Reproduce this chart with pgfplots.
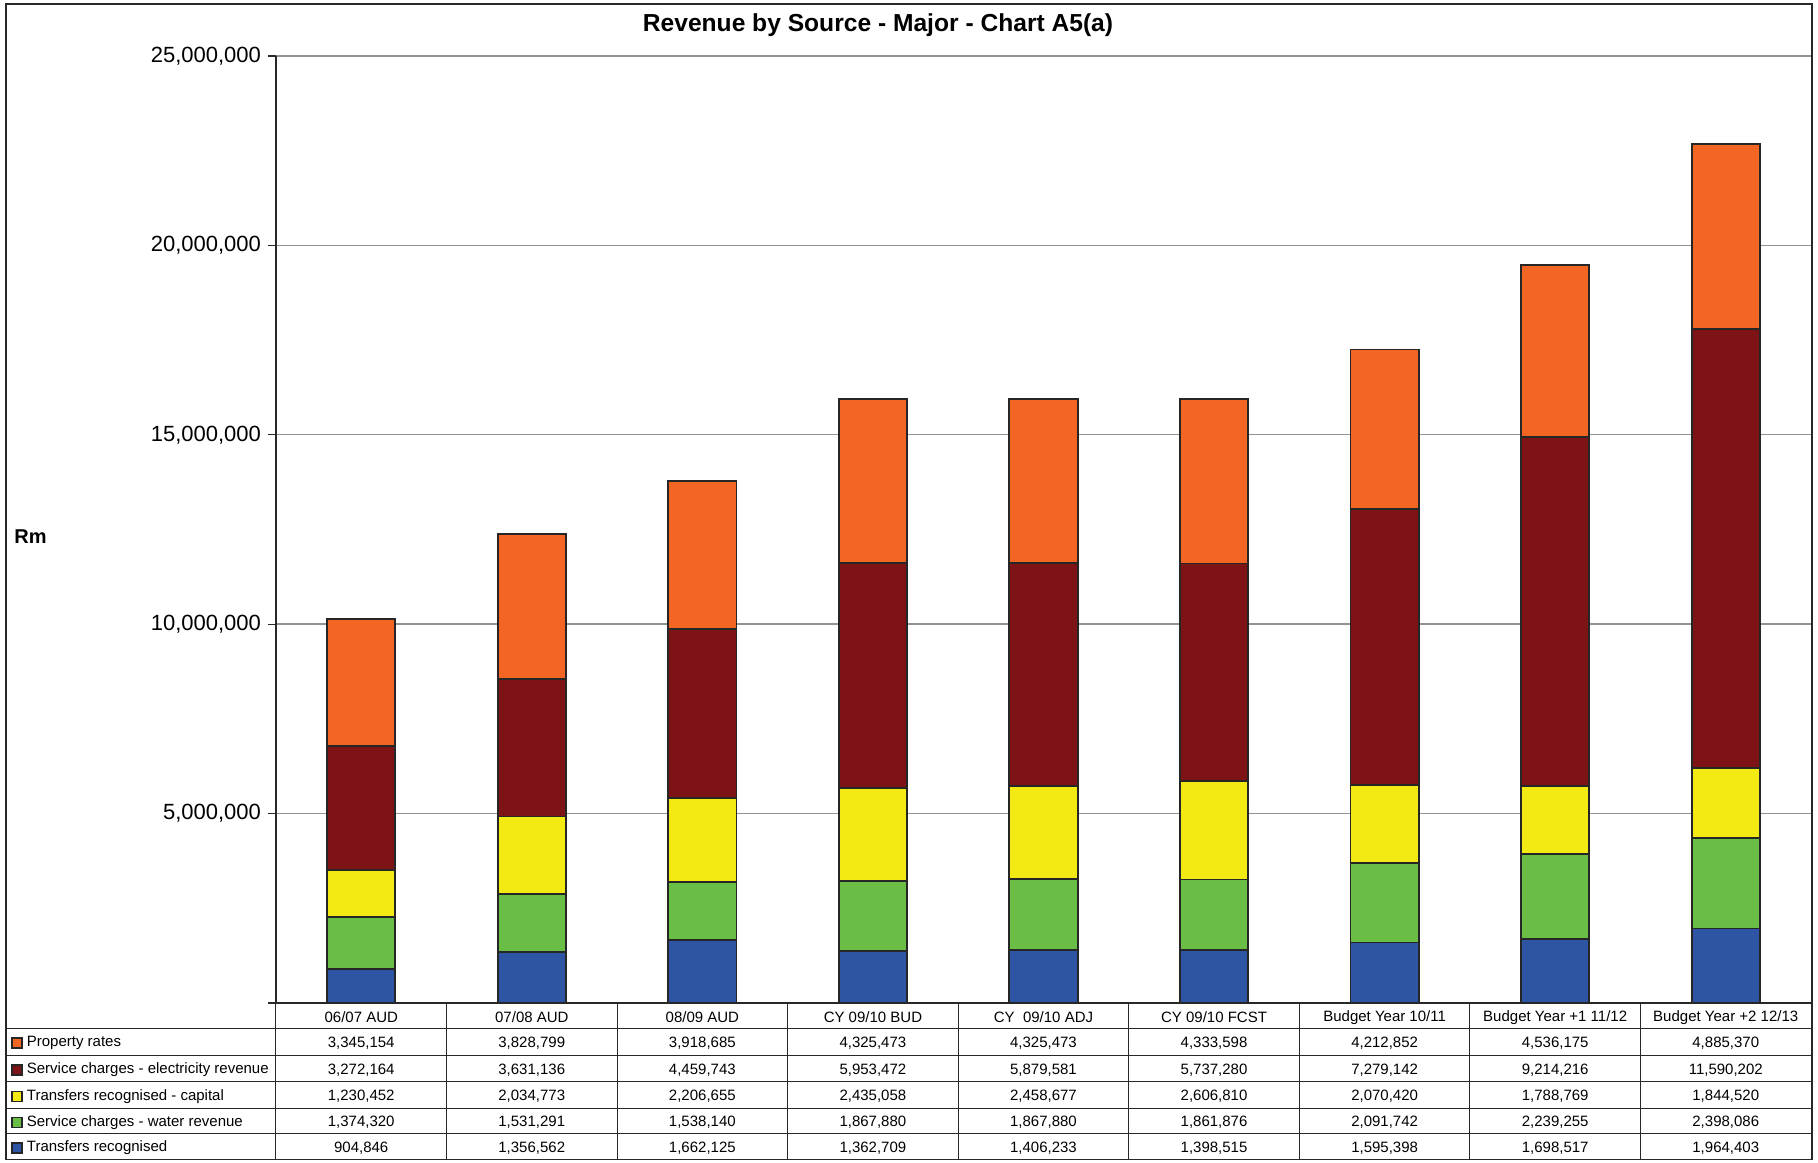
\documentclass[border=0pt]{standalone}
\usepackage{fontspec}
\setmainfont{Liberation Sans}
\usepackage{pgfplots}
\usepackage{pgfplotstable}
\pgfplotsset{compat=1.18}

\definecolor{cTransfers}{RGB}{46,84,164}
\definecolor{cWater}{RGB}{106,189,69}
\definecolor{cCapital}{RGB}{242,234,18}
\definecolor{cElec}{RGB}{126,19,21}
\definecolor{cRates}{RGB}{242,101,34}
\definecolor{frameGray}{RGB}{40,40,40}

\pgfplotstableread[col sep=comma]{
idx,transfers,water,capital,elec,rates
0,904846,1374320,1230452,3272164,3345154
1,1356562,1531291,2034773,3631136,3828799
2,1662125,1538140,2206655,4459743,3918685
3,1362709,1867880,2435058,5953472,4325473
4,1406233,1867880,2458677,5879581,4325473
5,1398515,1861876,2606810,5737280,4333598
6,1595398,2091742,2070420,7279142,4212852
7,1698517,2239255,1788769,9214216,4536175
8,1964403,2398086,1844520,11590202,4885370
}\revenue

\newcommand\tablefont{\fontsize{7.5}{9}\selectfont}

\begin{document}
\begin{tikzpicture}[x=0.5pt,y=0.5pt]
\useasboundingbox (0,0) rectangle (1818,1162);

\begin{axis}[
  at={(138pt,79.5pt)}, anchor=south west,
  width=767.5pt, height=473.5pt, scale only axis,
  ybar stacked, bar width=0.4, bar shift=0pt,
  xmin=-0.5, xmax=8.5, ymin=0, ymax=25000000,
  scaled y ticks=false,
  xtick={0,...,8},
  xticklabels={06/07 AUD, 07/08 AUD, 08/09 AUD, CY 09/10 BUD, {CY\ \ 09/10 ADJ},
    CY 09/10 FCST, Budget Year 10/11, Budget Year +1 11/12, Budget Year +2 12/13},
  xtick style={draw=none},
  xticklabel style={font=\tablefont, anchor=center, yshift=-3.3pt, inner sep=0pt},
  ytick={0,5000000,10000000,15000000,20000000,25000000},
  yticklabels={{},{5,000,000},{10,000,000},{15,000,000},{20,000,000},{25,000,000}},
  yticklabel style={font=\fontsize{11}{13}\selectfont},
  ytick pos=left, tick align=outside, major tick length=4pt,
  ytick style={frameGray, line width=0.6pt},
  ymajorgrids, grid style={gray!85, line width=0.7pt},
  axis x line*=bottom, axis y line*=left,
  axis line style={-, frameGray, line width=0.6pt},
  every axis plot/.append style={draw=black!85, line width=0.9pt},
]
\addplot[fill=cTransfers] table[x=idx, y=transfers]{\revenue};
\addplot[fill=cWater]     table[x=idx, y=water]{\revenue};
\addplot[fill=cCapital]   table[x=idx, y=capital]{\revenue};
\addplot[fill=cElec]      table[x=idx, y=elec]{\revenue};
\addplot[fill=cRates]     table[x=idx, y=rates]{\revenue};
\end{axis}

% title and unit label
\node[font=\bfseries\fontsize{12.3}{14}\selectfont] at (878,1136.5)
  {Revenue by Source - Major - Chart A5(a)};
\node[anchor=west, inner sep=0pt, font=\bfseries\fontsize{10}{12}\selectfont] at (14,625) {Rm};

% data table grid
\foreach \i in {0,...,9}
  \draw[frameGray, line width=0.5pt] ({275.9+170.57*\i},159.1) -- ({275.9+170.57*\i},2.6);
\foreach \yy in {133.6,106.9,80.3,53.6,28.1}
  \draw[frameGray, line width=0.5pt] (6,\yy) -- (1811,\yy);

% legend keys and values
\foreach \col/\yy/\clr/\name in {
    rates/118.8/cRates/Property rates,
    elec/92.2/cElec/Service charges - electricity revenue,
    capital/65.6/cCapital/Transfers recognised - capital,
    water/39.5/cWater/Service charges - water revenue,
    transfers/14/cTransfers/Transfers recognised}{
  \filldraw[fill=\clr, draw=black!85, line width=0.8pt] (12,\yy-5) rectangle (22,\yy+5);
  \node[anchor=west, font=\tablefont, inner sep=0pt] at (26.5,\yy) {\name};
  \foreach \i in {0,...,8}{
    \pgfplotstablegetelem{\i}{\col}\of\revenue
    \node[font=\tablefont] at ({275.9+170.57*(\i+0.5)},\yy)
      {\pgfmathprintnumber[fixed, precision=0, 1000 sep={,}, assume math mode=true]{\pgfplotsretval}};
  }
}

% outer frame
\draw[frameGray, line width=0.8pt] (6,2.6) rectangle (1812,1158);
\end{tikzpicture}
\end{document}
